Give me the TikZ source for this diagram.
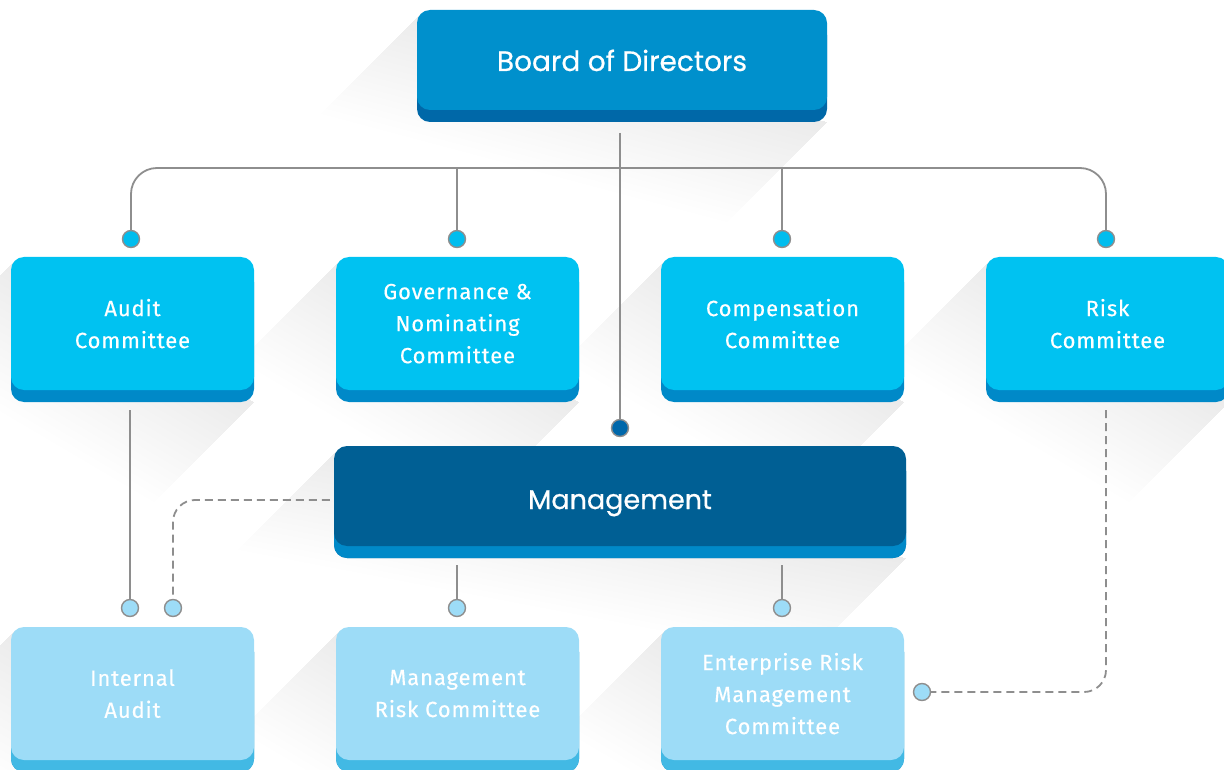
\documentclass[tikz,border=0pt]{standalone}
\usepackage{fontspec}
\newfontfamily\titlefont[FakeBold=0.6]{Poppins}
\newfontfamily\boxfont[LetterSpace=4,FakeBold=0.3]{Fira Sans}
\usetikzlibrary{shadows,backgrounds}

\definecolor{boardface}{HTML}{0090CC}
\definecolor{boardedge}{HTML}{0068A8}
\definecolor{comface}{HTML}{00C2F1}
\definecolor{comedge}{HTML}{0089C8}
\definecolor{manface}{HTML}{005F94}
\definecolor{lowface}{HTML}{9DDCF7}
\definecolor{lowedge}{HTML}{42B9E4}
\definecolor{linegray}{HTML}{8E8E8E}
\definecolor{dotblue}{HTML}{00BDEE}
\definecolor{dotdark}{HTML}{0067AA}

\tikzset{
  orgbox/.style={rounded corners=13pt, text=white, align=center, inner sep=0pt},
  topbox/.style={orgbox, minimum width=410pt, minimum height=100pt, fill=boardface,
    general shadow={fill=boardedge, shadow yshift=-12pt},
    font=\titlefont\fontsize{28}{32}\selectfont, text height=22pt, text depth=0pt},
  mgmtbox/.style={topbox, minimum width=572pt, fill=manface,
    general shadow={fill=comedge, shadow yshift=-12pt}, text height=26pt,
    font=\titlefont\fontsize{27}{32}\selectfont},
  combox/.style={orgbox, minimum width=243pt, minimum height=133pt, fill=comface,
    general shadow={fill=comedge, shadow yshift=-12pt},
    font=\boxfont\fontsize{22}{32}\selectfont, text depth=-10pt},
  lowbox/.style={combox, fill=lowface,
    general shadow={fill=lowedge, shadow yshift=-12pt}},
  dot/.style={circle, inner sep=0pt, minimum size=17pt, draw=linegray, line width=1.4pt, fill=dotblue},
  link/.style={draw=linegray, line width=1.8pt},
  dashlink/.style={link, dash pattern=on 8pt off 5pt},
  longshade/.style={fill=black, opacity=0.005}
}

\begin{document}
\begin{tikzpicture}[x=1pt,y=-1pt]
\useasboundingbox (0,0) rectangle (1224,770);

% boxes
\node [topbox] (board) at (622,60) {Board of Directors};

\node [combox] (audit) at (132.5,323.5) {Audit\\Committee};
\node [combox] (gov) at (457.5,323.5) {Governance \&\\Nominating\\Committee};
\node [combox] (comp) at (782.5,323.5) {Compensation\\Committee};
\node [combox] (risk) at (1107.5,323.5) {Risk\\Committee};

\node [mgmtbox] (man) at (620,496) {Management};

\node [lowbox] (ia) at (132.5,693.5) {Internal\\Audit};
\node [lowbox] (mrc) at (457.5,693.5) {Management\\Risk Committee};
\node [lowbox] (erm) at (782.5,693.5) {Enterprise Risk\\Management\\Committee};

% dots
\node [dot] (dAudit) at (131,239) {};
\node [dot] (dGov) at (457,239) {};
\node [dot] (dComp) at (782,239) {};
\node [dot] (dRisk) at (1106,239) {};
\node [dot, fill=dotdark] (dMan) at (620,428) {};
\node [dot, fill=lowface] (dIA) at (130,608) {};
\node [dot, fill=lowface] (dIA2) at (173,608) {};
\node [dot, fill=lowface] (dMRC) at (457,608) {};
\node [dot, fill=lowface] (dERM) at (782,608) {};
\node [dot, fill=lowface] (dERM2) at (922,692) {};

\coordinate (bus) at (620,168);
\coordinate (bstem) at (620,133);
\coordinate (mbase) at (620,565);

% connectors
\draw [link, rounded corners=26pt] (dAudit.north) |- (bus) -| (dRisk.north);
\draw [link] (dGov.north) -- (dGov.north |- bus);
\draw [link] (dComp.north) -- (dComp.north |- bus);
\draw [link] (bstem) -- (dMan.north);
\draw [link] ([yshift=-20pt]audit.south -| dIA) -- (dIA.north);
\draw [link] (dMRC.north) -- (dMRC.north |- mbase);
\draw [link] (dERM.north) -- (dERM.north |- mbase);
\draw [dashlink, rounded corners=22pt] ([xshift=-4pt,yshift=-4pt]man.west) -| (dIA2.north);
\draw [dashlink, rounded corners=22pt] ([yshift=-20pt]risk.south -| dRisk) |- (dERM2.east);

% long shadows, fading out to the lower left
\begin{scope}[on background layer]
\foreach \b in {board,audit,gov,comp,risk,man,ia,mrc,erm}
  \foreach \k in {5,10,...,100}
    \fill [longshade] ([xshift=4pt,yshift=-4pt]\b.north west) -- ([yshift=-12pt]\b.south east)
      -- ([xshift={-\k*1pt},yshift={-\k*1pt-12pt}]\b.south east)
      -- ([xshift={-\k*1pt+4pt},yshift={-\k*1pt-4pt}]\b.north west) -- cycle;
\end{scope}

\end{tikzpicture}
\end{document}
